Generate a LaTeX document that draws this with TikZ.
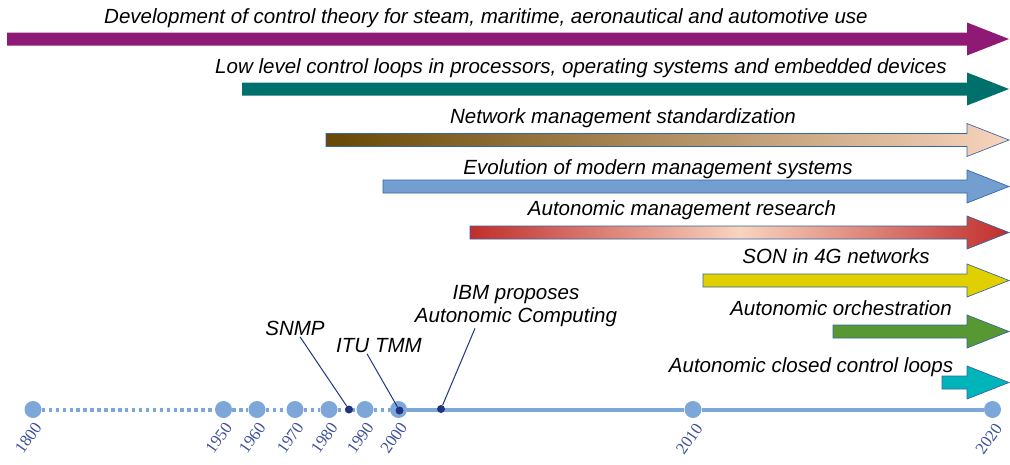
\documentclass[tikz,border=0pt]{standalone}
\usepackage{fontspec}
\setmainfont{Liberation Sans}
\newfontfamily\yearfont{Liberation Serif}
\usepackage{tikz}
\usetikzlibrary{positioning}
\usetikzlibrary{calc}

\definecolor{arrpurple}{RGB}{142,26,118}
\definecolor{arrteal}{RGB}{0,112,108}
\definecolor{arrbrown}{RGB}{104,72,4}
\definecolor{arrpeach}{RGB}{248,212,190}
\definecolor{arrblue}{RGB}{114,159,207}
\definecolor{arrred}{RGB}{192,46,44}
\definecolor{arryellow}{RGB}{224,208,0}
\definecolor{arrgreen}{RGB}{88,152,50}
\definecolor{arrcyan}{RGB}{0,181,186}
\definecolor{arroutline}{RGB}{52,101,164}
\definecolor{dotblue}{RGB}{125,167,217}
\definecolor{darknavy}{RGB}{32,52,128}
\definecolor{yearblue}{RGB}{62,80,152}

\begin{document}
\begin{tikzpicture}[x=0.75pt, y=-0.75pt,
    every node/.style={font=\fontsize{15.4}{17.3}\selectfont\itshape, inner sep=1pt},
    bar/.style={draw=arroutline, line width=0.5pt},
    bigdot/.style={circle, fill=dotblue, minimum size=12.75pt, inner sep=0pt},
    smalldot/.style={circle, fill=darknavy, minimum size=6pt, inner sep=0pt},
    year/.style={font=\fontsize{12.5}{12.5}\selectfont\yearfont, text=yearblue, rotate=55, anchor=east, inner sep=0pt},
    leader/.style={darknavy, line width=0.75pt}]

    \useasboundingbox (0,0) rectangle (1010,464);

    % Arrows
    \fill[arrpurple] (7,32.5) -- (967,32.5) -- (967,22.5) -- (1009,39) -- (967,55.5) -- (967,45.5) -- (7,45.5) -- cycle;
    \fill[arrteal] (242,82.5) -- (967,82.5) -- (967,72.5) -- (1009,89) -- (967,105.5) -- (967,95.5) -- (242,95.5) -- cycle;
    \shadedraw[bar, left color=arrbrown, right color=arrpeach] (326,133.5) -- (967,133.5) -- (967,123.5) -- (1009,140) -- (967,156.5) -- (967,146.5) -- (326,146.5) -- cycle;
    \filldraw[bar, fill=arrblue] (383,180) -- (967,180) -- (967,170) -- (1009,186.5) -- (967,203) -- (967,193) -- (383,193) -- cycle;
    \shadedraw[bar, left color=arrred, right color=arrred, middle color=arrpeach] (470,226) -- (967,226) -- (967,216) -- (1009,232.5) -- (967,249) -- (967,239) -- (470,239) -- cycle;
    \filldraw[bar, fill=arryellow] (703,274) -- (967,274) -- (967,264) -- (1009,280.5) -- (967,297) -- (967,287) -- (703,287) -- cycle;
    \filldraw[bar, fill=arrgreen] (833,325) -- (967,325) -- (967,315) -- (1009,331.5) -- (967,348) -- (967,338) -- (833,338) -- cycle;
    \filldraw[bar, fill=arrcyan] (942,376) -- (967,376) -- (967,366) -- (1009,382.5) -- (967,399) -- (967,389) -- (942,389) -- cycle;

    % Arrow labels
    \node[anchor=base] (control) at (486,23) {Development of control theory for steam, maritime, aeronautical and automotive use};
    \node[anchor=base] (lowlevel) at (581,73) {Low level control loops in processors, operating systems and embedded devices};
    \node[anchor=base] (netmgmt) at (623,123) {Network management standardization};
    \node[anchor=base] (modern) at (658,174) {Evolution of modern management systems};
    \node[anchor=base] (research) at (682,215) {Autonomic management research};
    \node[anchor=base] (son) at (836,263) {SON in 4G networks};
    \node[anchor=base] (orch) at (841,315) {Autonomic orchestration};
    \node[anchor=base] (closed) at (811,372) {Autonomic closed control loops};

    % Timeline
    \node[bigdot] (d1800) at (33,409.5) {};
    \node[bigdot] (d1950) at (223.5,409.5) {};
    \node[bigdot] (d1960) at (257,409.5) {};
    \node[bigdot] (d1970) at (295,409.5) {};
    \node[bigdot] (d1980) at (329,409.5) {};
    \node[bigdot] (d1990) at (365,409.5) {};
    \node[bigdot] (d2000) at (398.5,409.5) {};
    \node[bigdot] (d2010) at (693,409.5) {};
    \node[bigdot] (d2020) at (992.5,409.5) {};
    \draw[dotblue, line width=3pt, dash pattern=on 2.6pt off 2.6pt] (d1800) -- (d1950) -- (d1960) -- (d1970) -- (d1980) -- (d1990) -- (d2000);
    \draw[dotblue, line width=3pt] (d2000) -- (d2010) -- (d2020);

    \node[year] (y1800) at (38,424) {1800};
    \node[year] (y1950) at (228.5,424) {1950};
    \node[year] (y1960) at (262,424) {1960};
    \node[year] (y1970) at (300,424) {1970};
    \node[year] (y1980) at (334,424) {1980};
    \node[year] (y1990) at (370,424) {1990};
    \node[year] (y2000) at (403.5,424) {2000};
    \node[year] (y2010) at (699,425) {2010};
    \node[year] (y2020) at (998.5,425) {2020};

    % Events
    \node[smalldot] (dsnmp) at (349,409.5) {};
    \node[smalldot] (ditu) at (399.5,410.5) {};
    \node[smalldot] (dibm) at (441,409) {};
    \node[anchor=base] (snmp) at (295,335) {SNMP};
    \node[anchor=base] (itu) at (379,352) {ITU TMM};
    \node[align=center] (ibm) at (516,306) {IBM proposes\\Autonomic Computing};
    \draw[leader] ($(snmp.south)+(5,0)$) -- (dsnmp);
    \draw[leader] ($(itu.south)+(-12,0)$) -- (ditu);
    \draw[leader] ($(ibm.south)+(-41,0)$) -- (dibm);

\end{tikzpicture}
\end{document}
